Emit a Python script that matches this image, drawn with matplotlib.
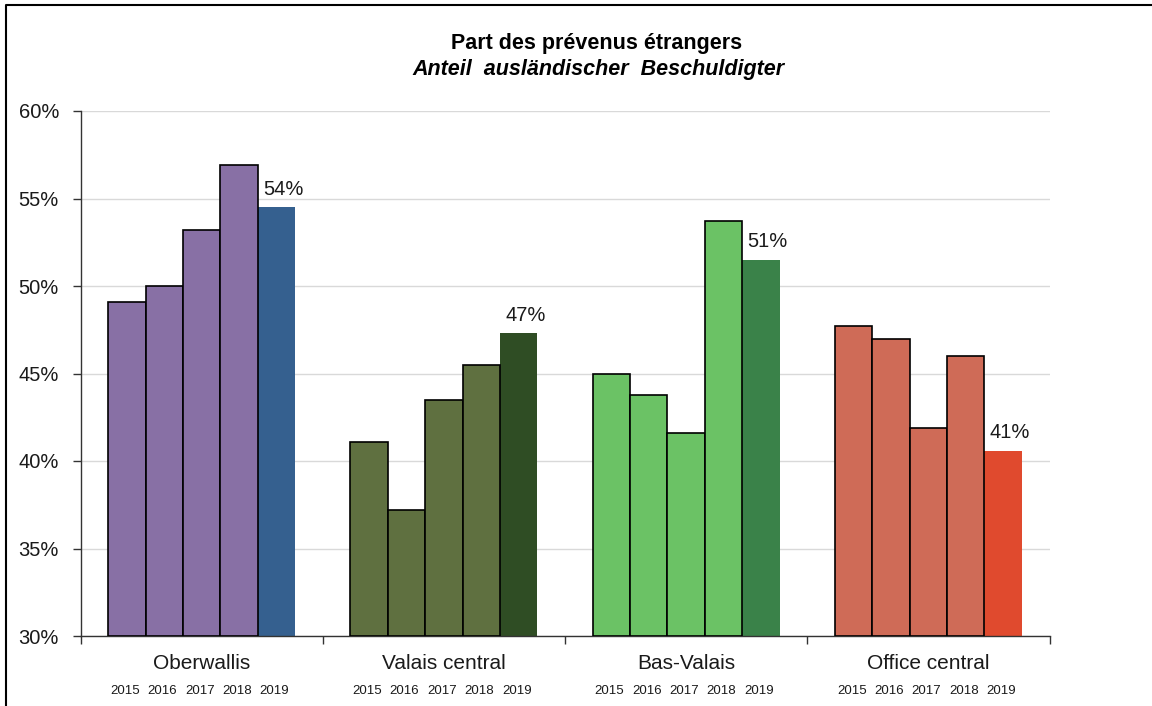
import matplotlib
matplotlib.use("Agg")
import matplotlib.pyplot as plt
from matplotlib.lines import Line2D

plt.rcParams['font.family'] = ['Liberation Sans', 'DejaVu Sans']

categories = ["Oberwallis", "Valais central", "Bas-Valais", "Office central"]
years = ["2015", "2016", "2017", "2018", "2019"]
oberwallis = [49.1, 50.0, 53.2, 56.9, 54.5]
valais_central = [41.1, 37.2, 43.5, 45.5, 47.3]
bas_valais = [45.0, 43.8, 41.6, 53.7, 51.5]
office_central = [47.7, 47.0, 41.9, 46.0, 40.6]
labels_2019 = ["54%", "47%", "51%", "41%"]
series = [oberwallis, valais_central, bas_valais, office_central]

base_colors = ["#8870A5", "#5F7040", "#6BC265", "#CF6B57"]
last_colors = ["#35608F", "#2F4D24", "#3A8249", "#E04A2E"]

W, H = 1152, 706
fig = plt.figure(figsize=(W / 100, H / 100), dpi=100)
ax = fig.add_axes([80.5 / W, (H - 636) / H, (1049.5 - 80.5) / W, (636 - 111) / H])

bw = 0.1542
for g, vals in enumerate(series):
    for i, v in enumerate(vals):
        x = g + 0.5 + (i - 2) * bw
        if i < 4:
            ax.bar(x, v - 30, bottom=30, width=bw, color=base_colors[g],
                   edgecolor="black", linewidth=1.2, zorder=3)
        else:
            ax.bar(x, v - 30, bottom=30, width=bw, color=last_colors[g],
                   edgecolor="none", zorder=2)
            ax.annotate(labels_2019[g], (x, v), xytext=(5, 6),
                        textcoords="offset points", ha="center", va="bottom",
                        fontsize=14.5, color="#1a1a1a")
        ax.text(x - 0.008, -0.105, years[i], transform=ax.get_xaxis_transform(),
                ha="center", va="center", fontsize=9.5, color="#1a1a1a")

ax.set_xlim(0, 4)
ax.set_ylim(30, 60)
ax.set_yticks([30, 35, 40, 45, 50, 55, 60])
ax.set_yticklabels(["30%", "35%", "40%", "45%", "50%", "55%", "60%"],
                   fontsize=14.5, color="#1a1a1a")
ax.yaxis.grid(True, color="#D9D9D9", linewidth=1.0, zorder=0)
ax.set_axisbelow(True)

ax.set_xticks([0, 1, 2, 3, 4])
ax.set_xticklabels([])
ax.set_xticks([0.5, 1.5, 2.5, 3.5], minor=True)
ax.set_xticklabels(categories, minor=True, fontsize=15, color="#1a1a1a")
ax.tick_params(axis="x", which="minor", length=0, pad=13)
ax.tick_params(axis="x", which="major", length=6, width=1.0, color="#333333", direction="out")
ax.tick_params(axis="y", length=6, width=1.0, color="#333333", pad=9.5)

for s in ["top", "right"]:
    ax.spines[s].set_visible(False)
for s in ["left", "bottom"]:
    ax.spines[s].set_color("#333333")
    ax.spines[s].set_linewidth(1.0)

fig.text(597 / W, 1 - 44 / H, "Part des prévenus étrangers", ha="center", va="center",
         fontsize=15.5, fontweight="bold", color="black")
fig.text(598 / W, 1 - 70 / H, "Anteil  ausländischer  Beschuldigter", ha="center", va="center",
         fontsize=15.5, fontweight="bold", fontstyle="italic", color="black")

# outer frame (left and top edges)
fig.add_artist(Line2D([6 / W, 6 / W, 1.0], [0.0, 1 - 4.5 / H, 1 - 4.5 / H],
                      transform=fig.transFigure, color="black", linewidth=1.5))

fig.savefig("out.png", dpi=100)
